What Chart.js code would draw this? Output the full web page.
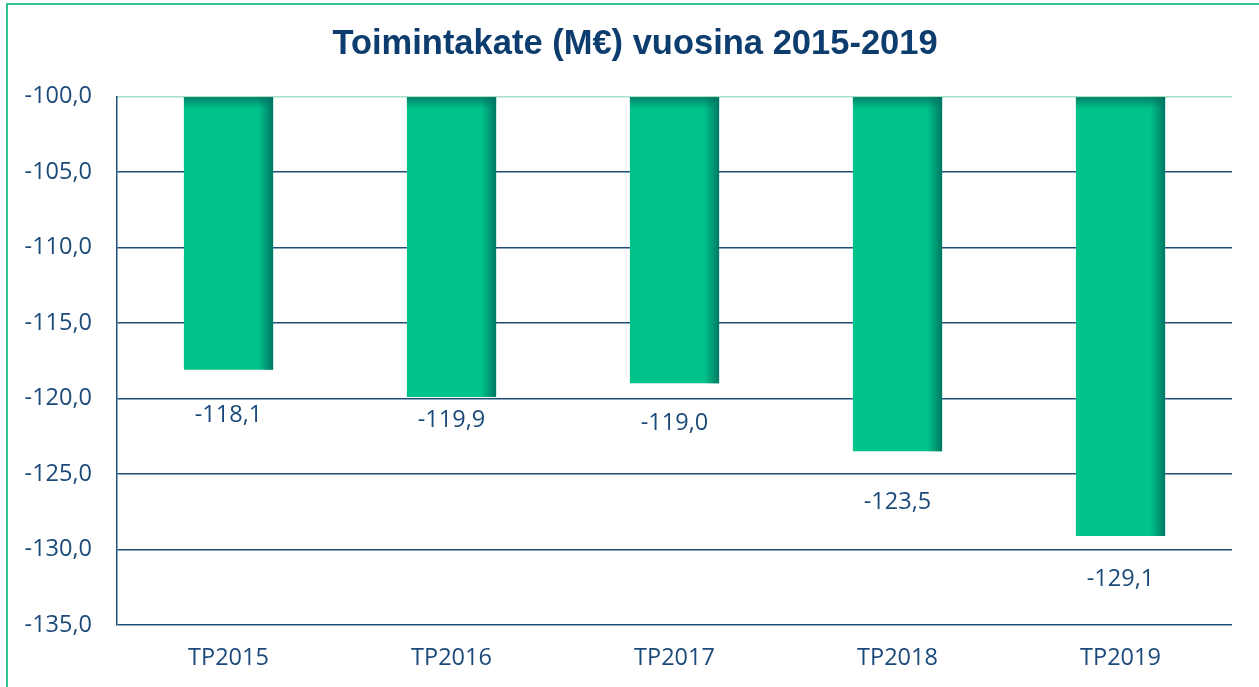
<!DOCTYPE html>
<html>
<head>
<meta charset="utf-8">
<script src="https://cdn.jsdelivr.net/npm/chart.js"></script>
<style>
  html, body { margin: 0; padding: 0; background: #fff; }
  #wrap { position: relative; width: 1259px; height: 687px; overflow: hidden; }
  #frame { position: absolute; left: 6px; top: 3px; width: 1300px; height: 700px;
           border-left: 2px solid #2ec48f; border-top: 2px solid #2ec48f; }
  canvas { position: absolute; left: 0; top: 0; }
</style>
</head>
<body>
<div id="wrap">
  <div id="frame"></div>
  <canvas id="myChart" width="1259" height="687"></canvas>
</div>
<script>
const categories = ["TP2015", "TP2016", "TP2017", "TP2018", "TP2019"];
const toimintakate = [-118.1, -119.9, -119.0, -123.5, -129.1];
const yMin = -135;
const yMax = -100;
const yStep = 5;
const titleText = "Toimintakate (M€) vuosina 2015-2019";

const textBlue = "#1b4a7a";
const gridBlue = "#1f4e79";
const titleFont = "bold 34.5px 'Liberation Sans', Arial";

function fmt(v) {
  return v.toFixed(1).replace(".", ",");
}

// shading on the right edge and top of each bar, value labels below, and the title
const barDecor = {
  id: "barDecor",
  afterDatasetsDraw(chart) {
    const ctx = chart.ctx;
    const meta = chart.getDatasetMeta(0);
    const labelOffsets = [46, 23, 40, 51, 43];
    meta.data.forEach((bar, i) => {
      const p = bar.getProps(["x", "y", "base", "width"], true);
      const left = p.x - p.width / 2;
      const right = p.x + p.width / 2;
      const top = Math.min(p.y, p.base);
      const bottom = Math.max(p.y, p.base);
      ctx.save();
      let g = ctx.createLinearGradient(right - 15, 0, right, 0);
      g.addColorStop(0, "rgba(0,120,100,0)");
      g.addColorStop(1, "rgba(0,110,95,0.9)");
      ctx.fillStyle = g;
      ctx.fillRect(right - 15, top, 15, bottom - top);
      g = ctx.createLinearGradient(0, top, 0, top + 12);
      g.addColorStop(0, "rgba(0,110,95,0.8)");
      g.addColorStop(1, "rgba(0,120,100,0)");
      ctx.fillStyle = g;
      ctx.fillRect(left, top, p.width, 12);
      ctx.fillStyle = textBlue;
      ctx.font = "23.5px 'Open Sans'";
      ctx.textAlign = "center";
      ctx.textBaseline = "middle";
      ctx.fillText(fmt(toimintakate[i]), p.x, bottom + labelOffsets[i]);
      ctx.restore();
    });
  },
  afterDraw(chart) {
    const ctx = chart.ctx;
    ctx.save();
    ctx.fillStyle = "#0d3d6e";
    ctx.font = titleFont;
    ctx.textAlign = "center";
    ctx.textBaseline = "middle";
    ctx.fillText(titleText, 635, 44);
    ctx.restore();
  }
};

new Chart(document.getElementById("myChart").getContext("2d"), {
  type: "bar",
  data: {
    labels: categories,
    datasets: [{
      data: toimintakate,
      base: -100,
      backgroundColor: "#00c38a",
      borderWidth: 0,
      barPercentage: 0.4,
      categoryPercentage: 1.0
    }]
  },
  options: {
    responsive: false,
    animation: false,
    layout: { padding: { left: 0, right: 27, top: 0, bottom: 0 } },
    plugins: {
      legend: { display: false },
      tooltip: { enabled: false },
      title: {
        display: true,
        text: titleText,
        color: "rgba(0,0,0,0)",
        font: { family: "'Liberation Sans', Arial", size: 34.5, weight: "bold" },
        padding: { top: 23, bottom: 32 }
      }
    },
    scales: {
      y: {
        min: yMin,
        max: yMax,
        ticks: {
          stepSize: yStep,
          color: textBlue,
          font: { family: "'Open Sans'", size: 23.5 },
          padding: 25,
          callback: (v) => fmt(v)
        },
        grid: {
          color: (c) => (c.tick && c.tick.value === yMax ? "#a8dfc6" : gridBlue),
          lineWidth: 1.5,
          drawTicks: false
        },
        border: { color: gridBlue, width: 1.5 },
        afterFit: (s) => { s.width = 117; }
      },
      x: {
        grid: { display: false, drawTicks: false },
        border: { display: false },
        ticks: {
          color: textBlue,
          font: { family: "'Open Sans'", size: 23.5 },
          padding: 19
        },
        afterFit: (s) => { s.height = 62; }
      }
    }
  },
  plugins: [barDecor]
});
</script>
</body>
</html>
